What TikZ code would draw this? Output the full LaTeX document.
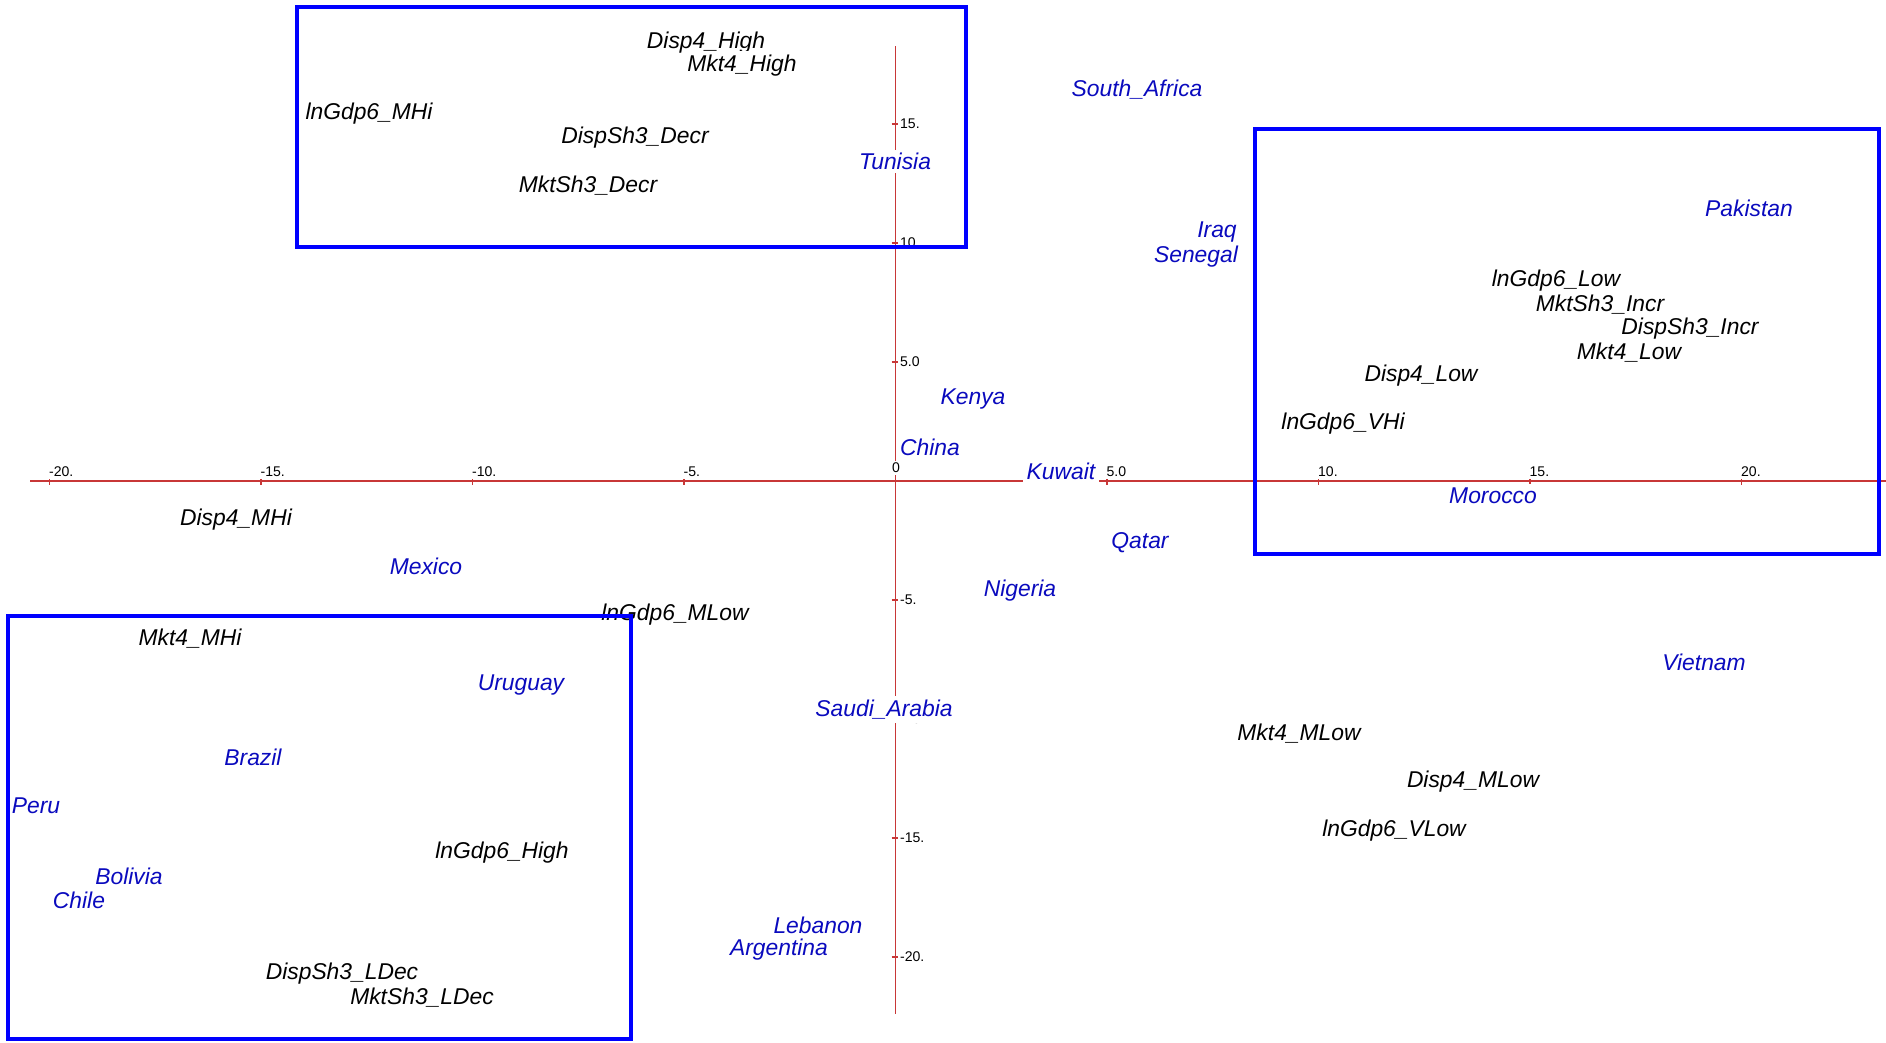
\documentclass[tikz,border=0pt]{standalone}
\usepackage{fontspec}
\setmainfont{Liberation Sans}
\definecolor{axisred}{RGB}{200,55,55}
\definecolor{ctryblue}{RGB}{10,10,190}
\definecolor{boxblue}{RGB}{0,0,255}
\begin{document}
\begin{tikzpicture}[x=0.02cm,y=-0.02cm,
		cat/.style={fill=white,inner sep=2pt,yshift=-1.4pt,font=\fontsize{13}{15}\selectfont\itshape},
		ctry/.style={cat,text=ctryblue},
		ticklab/.style={fill=white,inner sep=1pt,font=\fontsize{8}{9}\selectfont},
		grpbox/.style={draw=boxblue,line width=2pt}]
		\useasboundingbox (0,0) rectangle (1886,1042);
		
		% axes
		\draw[axisred,line width=0.7pt] (30,481)--(1886,481);
		\draw[axisred,line width=0.7pt] (895.5,46)--(895.5,1014);
		\foreach \k/\t in {-20/-20.,-15/-15.,-10/-10.,-5/-5.,5/5.0,10/10.,15/15.,20/20.}{
			\draw[axisred,line width=0.7pt] ({895.5+42.3*\k},477)--({895.5+42.3*\k},485);
			\node[ticklab,anchor=south west] (hx\k) at ({893+42.3*\k},479) {\t};
		}
		\foreach \k/\t in {15/15.,10/10.,5/5.0,-5/-5.,-10/-10.,-15/-15.,-20/-20.}{
			\draw[axisred,line width=0.7pt] (891.5,{481-23.8*\k})--(899.5,{481-23.8*\k});
			\node[ticklab,anchor=west] (vy\k) at (898,{481-23.8*\k}) {\t};
		}
		\node[ticklab] (orig) at (896,468) {0};
		
		% categories
		\node[cat] (dh) at (706,40) {Disp4\_High};
		\node[cat] (mh) at (742,63) {Mkt4\_High};
		\node[cat] (gmhi) at (369,111) {lnGdp6\_MHi};
		\node[cat] (dsd) at (635,135) {DispSh3\_Decr};
		\node[cat] (msd) at (588,183) {MktSh3\_Decr};
		\node[cat] (glow) at (1556,278) {lnGdp6\_Low};
		\node[cat] (msi) at (1600,302) {MktSh3\_Incr};
		\node[cat] (dsi) at (1690,326) {DispSh3\_Incr};
		\node[cat] (mlow) at (1629,350) {Mkt4\_Low};
		\node[cat] (dlow) at (1421,373) {Disp4\_Low};
		\node[cat] (gvhi) at (1343,421) {lnGdp6\_VHi};
		\node[cat] (dmhi) at (236,517) {Disp4\_MHi};
		\node[cat] (gmlow) at (675,612) {lnGdp6\_MLow};
		\node[cat] (mmhi) at (190,636) {Mkt4\_MHi};
		\node[cat] (mmlow) at (1299,731) {Mkt4\_MLow};
		\node[cat] (dmlow) at (1473,779) {Disp4\_MLow};
		\node[cat] (gvlow) at (1394,828) {lnGdp6\_VLow};
		\node[cat] (ghigh) at (502,850) {lnGdp6\_High};
		\node[cat] (dsl) at (342,971) {DispSh3\_LDec};
		\node[cat] (msl) at (422,995) {MktSh3\_LDec};
		
		% countries
		\node[ctry] (safr) at (1137,87) {South\_Africa};
		\node[ctry] (tun) at (895,159) {Tunisia};
		\node[ctry] (pak) at (1749,206) {Pakistan};
		\node[ctry] (irq) at (1217,230) {Iraq};
		\node[ctry] (sen) at (1196,254) {Senegal};
		\node[ctry] (ken) at (973,397) {Kenya};
		\node[ctry] (chn) at (930,445) {China};
		\node[ctry] (kuw) at (1061,469) {Kuwait};
		\node[ctry] (mor) at (1493,493) {Morocco};
		\node[ctry] (qat) at (1140,540) {Qatar};
		\node[ctry] (mex) at (426,564) {Mexico};
		\node[ctry] (nga) at (1020,588) {Nigeria};
		\node[ctry] (vnm) at (1704,660) {Vietnam};
		\node[ctry] (ury) at (521,683) {Uruguay};
		\node[ctry] (sau) at (884,707) {Saudi\_Arabia};
		\node[ctry] (bra) at (253,755) {Brazil};
		\node[ctry] (per) at (36,803) {Peru};
		\node[ctry] (bol) at (129,874) {Bolivia};
		\node[ctry] (chl) at (79,898) {Chile};
		\node[ctry] (lbn) at (818,923) {Lebanon};
		\node[ctry] (arg) at (779,947) {Argentina};
		
		% groups
		\draw[grpbox] (297,7) rectangle (966,247);
		\draw[grpbox] (1255,129) rectangle (1879,554);
		\draw[grpbox] (8,616) rectangle (631,1039);
		
		\end{tikzpicture}
\end{document}
